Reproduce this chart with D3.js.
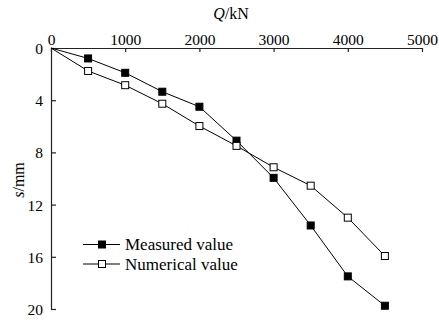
<!DOCTYPE html>
<html>
<head>
<meta charset="utf-8">
<script src="https://cdn.jsdelivr.net/npm/d3@7"></script>
<style>
  html, body { margin: 0; padding: 0; background: #fff; }
  svg { display: block; }
  text { font-family: "Liberation Serif", "DejaVu Serif", serif; fill: #000; }
</style>
</head>
<body>
<svg id="chart" width="439" height="322"></svg>
<script>
// Load Q (kN) and settlement s (mm)
const loads = [0, 500, 1000, 1500, 2000, 2500, 3000, 3500, 4000, 4500];
const measured = [0, 0.8, 1.9, 3.35, 4.5, 7.1, 9.95, 13.6, 17.5, 19.75];
const numerical = [0, 1.76, 2.85, 4.27, 5.98, 7.5, 9.14, 10.55, 13.0, 15.94];
const xTicks = [0, 1000, 2000, 3000, 4000, 5000];
const yTicks = [0, 4, 8, 12, 16, 20];
const seriesNames = ["Measured value", "Numerical value"];

const svg = d3.select("#chart");
const plotLeft = 51, plotRight = 422, plotTop = 48, plotBottom = 309;

const x = d3.scaleLinear().domain([0, 5000]).range([plotLeft, plotRight]);
const y = d3.scaleLinear().domain([0, 20]).range([plotTop, plotBottom]);

// Top load axis with ticks pointing into the plot
const xAxis = svg.append("g")
  .attr("transform", `translate(0,${plotTop})`)
  .call(d3.axisBottom(x).tickValues(xTicks).tickSize(4).tickFormat(d3.format("d")));
xAxis.selectAll("text").remove();
xAxis.select(".domain").attr("d", `M${plotLeft},0.5H${plotRight}`);
xAxis.selectAll(".tick").append("text")
  .attr("y", -3.5)
  .attr("text-anchor", "middle")
  .style("font-size", "15.5px")
  .text(d => d);

// Left settlement axis with ticks pointing into the plot
const yAxis = svg.append("g")
  .attr("transform", `translate(${plotLeft},0)`)
  .call(d3.axisRight(y).tickValues(yTicks).tickSize(5));
yAxis.selectAll("text").remove();
yAxis.select(".domain").attr("d", `M0.5,${plotTop}V${plotBottom}`);
yAxis.selectAll(".tick").append("text")
  .attr("x", -8)
  .attr("dy", "0.35em")
  .attr("text-anchor", "end")
  .style("font-size", "15.5px")
  .text(d => d);

svg.selectAll(".domain, .tick line").attr("stroke", "#222").attr("stroke-width", 1.2);

// Axis titles
svg.append("text")
  .attr("x", 231).attr("y", 19)
  .attr("text-anchor", "middle")
  .style("font-size", "16px")
  .html('<tspan font-style="italic">Q</tspan>/kN');

svg.append("text")
  .attr("transform", "translate(24,180) rotate(-90)")
  .attr("text-anchor", "middle")
  .style("font-size", "16px")
  .html('<tspan font-style="italic">s</tspan>/mm');

const line = d3.line().x(d => x(d[0])).y(d => y(d[1]));
const series = [
  { name: seriesNames[0], values: measured, fill: "#000" },
  { name: seriesNames[1], values: numerical, fill: "#fff" }
];

const ms = 7;
series.forEach(s => {
  const pts = loads.map((q, i) => [q, s.values[i]]);
  svg.append("path")
    .attr("d", line(pts))
    .attr("fill", "none")
    .attr("stroke", "#000")
    .attr("stroke-width", 1);
  svg.selectAll(null)
    .data(pts.slice(1))
    .enter().append("rect")
    .attr("x", d => x(d[0]) - ms / 2)
    .attr("y", d => y(d[1]) - ms / 2)
    .attr("width", ms).attr("height", ms)
    .attr("fill", s.fill)
    .attr("stroke", "#000")
    .attr("stroke-width", 1);
});

// Legend
const legend = svg.append("g");
series.forEach((s, i) => {
  const ly = 244.5 + i * 19.5;
  legend.append("line")
    .attr("x1", 83).attr("x2", 120)
    .attr("y1", ly).attr("y2", ly)
    .attr("stroke", "#000").attr("stroke-width", 1);
  legend.append("rect")
    .attr("x", 102 - ms / 2).attr("y", ly - ms / 2)
    .attr("width", ms).attr("height", ms)
    .attr("fill", s.fill).attr("stroke", "#000");
  legend.append("text")
    .attr("x", 125).attr("y", ly)
    .attr("dy", "0.35em")
    .style("font-size", "17px")
    .text(s.name);
});
</script>
</body>
</html>
